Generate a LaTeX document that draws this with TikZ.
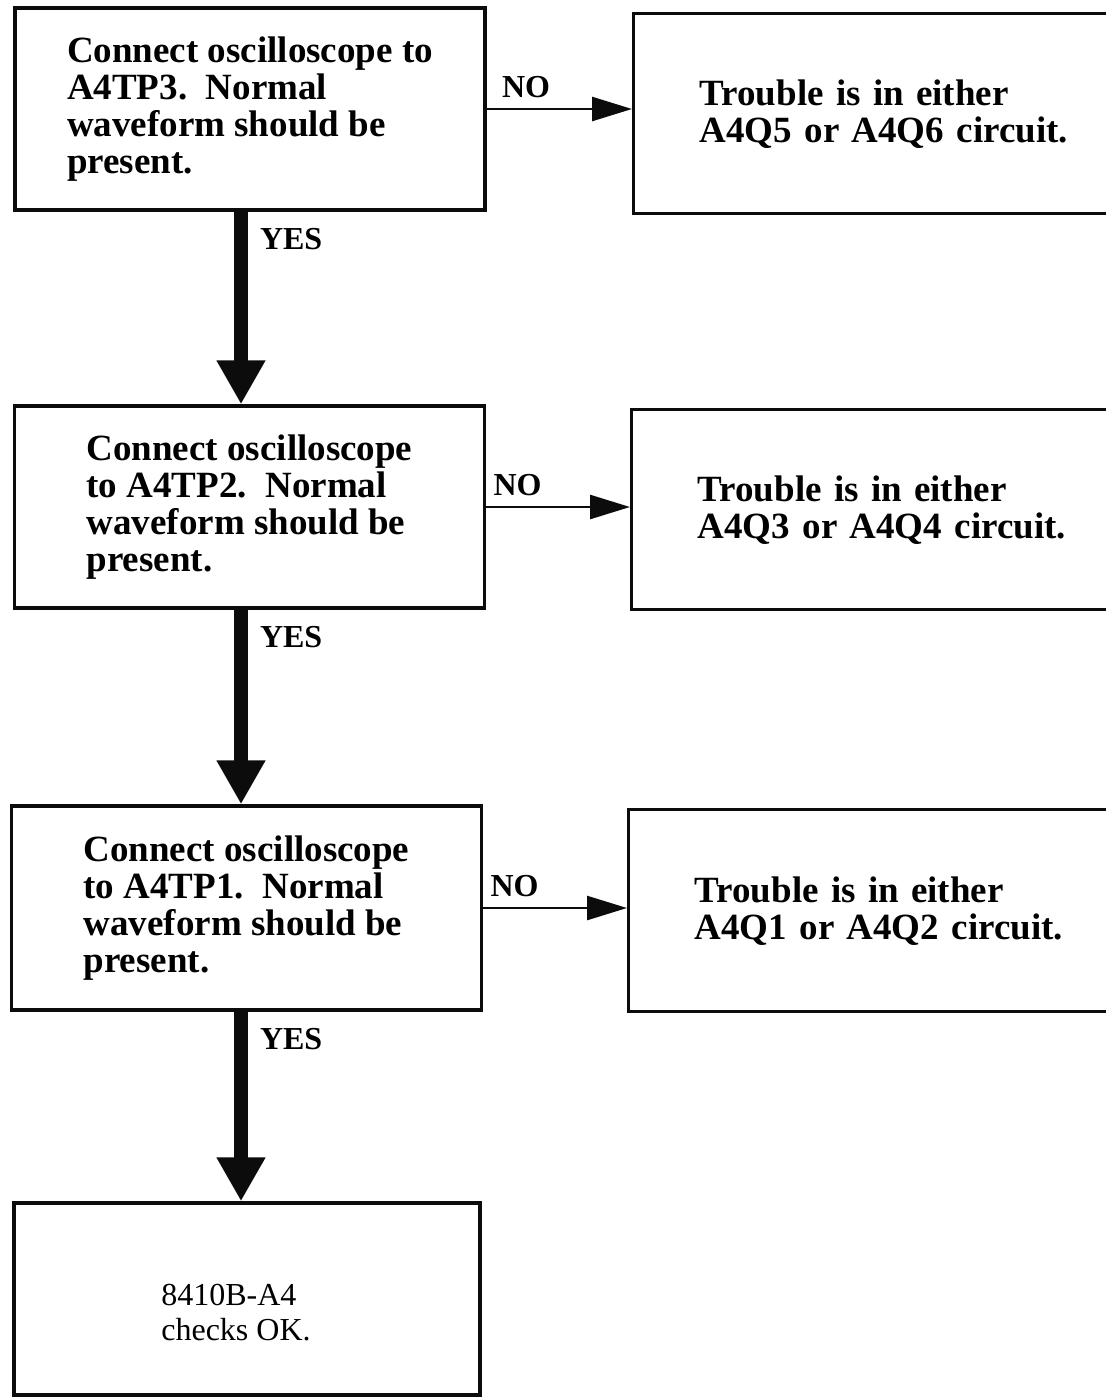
\documentclass[tikz,border=0pt]{standalone}
\usepackage{fontspec}
\setmainfont{Liberation Serif}
\usetikzlibrary{arrows.meta,positioning}
\definecolor{inkblack}{RGB}{12,12,12}

\begin{document}
\begin{tikzpicture}[x=0.5pt,y=-0.5pt,
    stepbox/.style={draw=inkblack,line width=1.7pt,minimum width=235pt,minimum height=101pt,
      align=left,font=\fontsize{18.5}{18.5}\selectfont\bfseries},
    faultbox/.style={draw=inkblack,line width=1.7pt,anchor=north west,minimum height=100pt,
      text width=190pt,inner xsep=33pt,align=left,font=\fontsize{18.5}{18.5}\selectfont\bfseries},
    okbox/.style={draw=inkblack,line width=1.7pt,minimum width=233pt,minimum height=96pt},
    oktext/.style={align=left,font=\fontsize{16}{17.5}\selectfont},
    yesarrow/.style={draw=inkblack,line width=7pt,-{Triangle[length=22pt,width=23pt]}},
    noarrow/.style={draw=inkblack,line width=1.3pt,-{Triangle[length=20pt,width=12pt]}},
    answer/.style={font=\fontsize{16}{16}\selectfont\bfseries,inner sep=0pt}]
    \useasboundingbox (0,0) rectangle (1106,1399);
    \clip (0,0) rectangle (1106,1399);
    \coordinate (spine) at (241,0);

    \node[stepbox] (tp3) at (250,109)
      {Connect oscilloscope to\\A4TP3.\ \ Normal\\waveform should be\\present.};
    \node[stepbox] (tp2) at (249.5,507)
      {Connect oscilloscope\\to A4TP2.\ \ Normal\\waveform should be\\present.};
    \node[stepbox,minimum height=102pt] (tp1) at (246.5,908)
      {Connect oscilloscope\\to A4TP1.\ \ Normal\\waveform should be\\present.};
    \node[okbox] (ok) at (247,1299) {};
    \node[oktext] (oklabel) at (236,1313) {8410B-A4\\checks OK.};

    \node[faultbox] (q56) at (632,12) {Trouble is in either\\A4Q5 or A4Q6 circuit.};
    \node[faultbox] (q34) at (630,408) {Trouble is in either\\A4Q3 or A4Q4 circuit.};
    \node[faultbox,minimum height=101pt] (q12) at (627,808) {Trouble is in either\\A4Q1 or A4Q2 circuit.};

    \draw[noarrow] (tp3.east) -- (tp3.east -| q56.west)
      node[answer,at start,anchor=south west,xshift=7pt,yshift=5pt] {NO};
    \draw[noarrow] (tp2.east) -- (tp2.east -| q34.west)
      node[answer,at start,anchor=south west,xshift=3pt,yshift=5pt] {NO};
    \draw[noarrow] (tp1.east) -- (tp1.east -| q12.west)
      node[answer,at start,anchor=south west,xshift=3pt,yshift=5pt] {NO};

    \draw[yesarrow] (tp3.south -| spine) -- (tp2.north -| spine)
      node[answer,at start,anchor=north west,xshift=6pt,yshift=-5pt] {YES};
    \draw[yesarrow] (tp2.south -| spine) -- (tp1.north -| spine)
      node[answer,at start,anchor=north west,xshift=6pt,yshift=-5pt] {YES};
    \draw[yesarrow] (tp1.south -| spine) -- (ok.north -| spine)
      node[answer,at start,anchor=north west,xshift=6pt,yshift=-5pt] {YES};
\end{tikzpicture}
\end{document}
